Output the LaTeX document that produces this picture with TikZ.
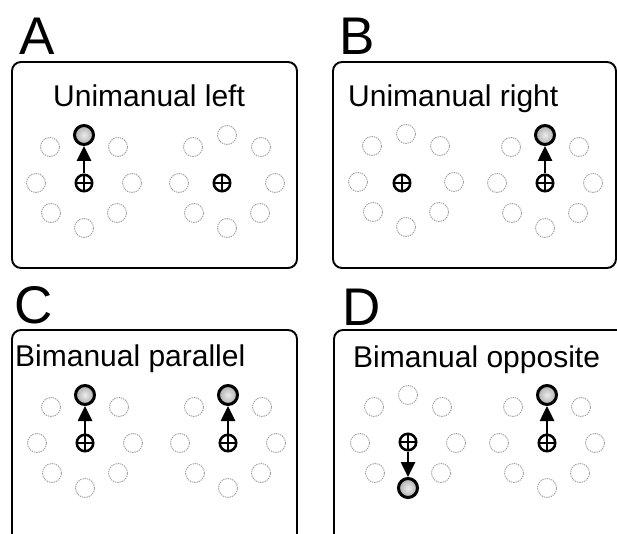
\documentclass[tikz,border=0pt]{standalone}
\usepackage{fontspec}
\setmainfont{Liberation Sans}
\usetikzlibrary{arrows.meta}
\tikzset{
  ringc/.style={circle, draw=gray!75, dash pattern=on 1.4pt off 0.9pt, line width=0.9pt, minimum size=19pt, inner sep=0pt},
  goal/.style={circle, draw=black, line width=3pt, minimum size=19pt, inner sep=0pt, inner color=gray!15, outer color=gray!65},
  startc/.style={circle, draw=black, line width=2.5pt, fill=white, minimum size=16.5pt, inner sep=0pt,
    path picture={\draw[line width=2.6pt] ([xshift=-7pt]path picture bounding box.center) -- ([xshift=7pt]path picture bounding box.center);
                  \draw[line width=2.6pt] ([yshift=-7pt]path picture bounding box.center) -- ([yshift=7pt]path picture bounding box.center);}},
  mvarrow/.style={-{Triangle[width=14pt,length=15pt]}, line width=2.6pt},
  panel/.style={draw, line width=1.9pt, rounded corners=9pt},
  titletext/.style={font=\fontsize{30}{30}\selectfont, anchor=base west, inner sep=0pt},
  letter/.style={font=\fontsize{53}{53}\selectfont, anchor=base west, inner sep=0pt}
}
\newcommand\targetring[4]{%
  \foreach \i/\dx/\dy in {1/0/-48, 2/34/-36, 3/48/0, 4/33/30, 5/0/45, 6/-33/30, 7/-48/0, 8/-34/-36}{
    \ifnum\i=#4\relax
      \node[goal] (#1-\i) at ({#2+(\dx)},{#3+(\dy)}) {};
    \else
      \node[ringc] (#1-\i) at ({#2+(\dx)},{#3+(\dy)}) {};
    \fi
  }%
}
\begin{document}
\begin{tikzpicture}[x=1pt,y=-1pt]
\useasboundingbox (0,0) rectangle (617,534);
\clip (0,0) rectangle (617,534);

% panel letters
\node[letter] (labA) at (19,55) {A};
\node[letter] (labB) at (339,55) {B};
\node[letter] (labC) at (14,323) {C};
\node[letter] (labD) at (342,325) {D};

% panel frames
\draw[panel] (12,62) rectangle (297,268);
\draw[panel] (333,62) rectangle (616,268);
\draw[panel] (12,330) rectangle (297,570);
\draw[panel] (334,330) rectangle (650,570);

% titles
\node[titletext] (tA) at (53,107) {Unimanual left};
\node[titletext] (tB) at (348,107) {Unimanual right};
\node[titletext] (tC) at (15,366) {Bimanual parallel};
\node[titletext] (tD) at (353,367) {Bimanual opposite};

% Panel A
\targetring{AL}{84}{183}{1}
\targetring{AR}{227}{183}{0}
\node[startc] (AL-s) at (84,183) {};
\node[startc] (AR-s) at (222,183) {};
\draw[mvarrow] (AL-s) -- (AL-1);

% Panel B
\targetring{BL}{406}{182}{0}
\targetring{BR}{545}{183}{1}
\node[startc] (BL-s) at (402,183) {};
\node[startc] (BR-s) at (545,183) {};
\draw[mvarrow] (BR-s) -- (BR-1);

% Panel C
\targetring{CL}{85}{443}{1}
\targetring{CR}{228}{443}{1}
\node[startc] (CL-s) at (85,443) {};
\node[startc] (CR-s) at (228,443) {};
\draw[mvarrow] (CL-s) -- (CL-1);
\draw[mvarrow] (CR-s) -- (CR-1);

% Panel D
\targetring{DL}{408}{443}{5}
\targetring{DR}{547}{443}{1}
\node[startc] (DL-s) at (408,442) {};
\node[startc] (DR-s) at (547,443) {};
\draw[mvarrow] (DL-s) -- (DL-5);
\draw[mvarrow] (DR-s) -- (DR-1);
\end{tikzpicture}
\end{document}
